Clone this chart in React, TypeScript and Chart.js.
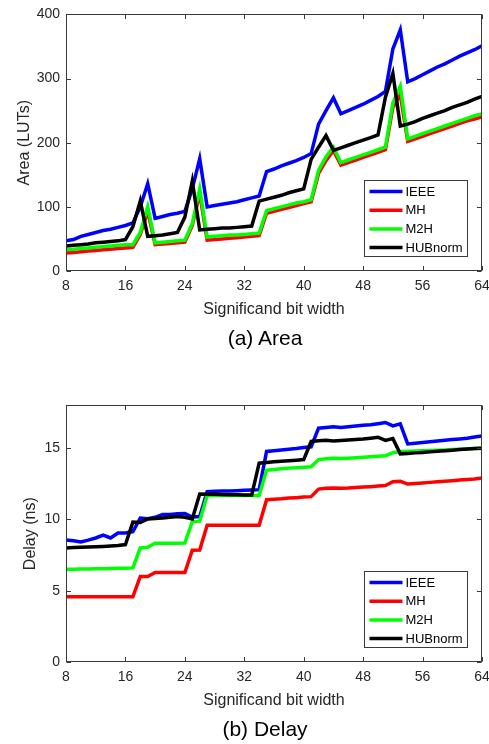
import React, { useEffect, useRef } from "react";
import { Chart, registerables } from "chart.js";

Chart.register(...registerables);

// ---------------- data ----------------
const bits = [
  8, 9, 10, 11, 12, 13, 14, 15, 16, 17, 18, 19, 20, 21, 22, 23, 24, 25, 26, 27,
  28, 29, 30, 31, 32, 33, 34, 35, 36, 37, 38, 39, 40, 41, 42, 43, 44, 45, 46,
  47, 48, 49, 50, 51, 52, 53, 54, 55, 56, 57, 58, 59, 60, 61, 62, 63, 64,
];

const seriesNames = ["IEEE", "MH", "M2H", "HUBnorm"];
const seriesColors = ["#0000ff", "#ff0000", "#00ff00", "#000000"];

const xTicks = [8, 16, 24, 32, 40, 48, 56, 64];
const areaTicks = [0, 100, 200, 300, 400];
const delayTicks = [0, 5, 10, 15];

// Area (LUTs)
const areaIEEE = [
  47, 49, 54, 57, 60, 63, 65, 68, 71, 75, 100, 136, 82, 85, 88, 90, 93, 128, 175, 100,
  102, 104, 106, 108, 111, 114, 117, 155, 159, 164, 168, 172, 177, 183, 229, 250, 270, 245, 250,
  255, 260, 266, 272, 280, 346, 376, 295, 300, 306, 312, 318, 323, 329, 335, 340, 345, 351,
];
const areaMH = [
  28, 29, 30, 31, 32, 33, 34, 35, 36, 37, 57, 93, 41, 42, 43, 44, 45, 71, 121, 48,
  49, 50, 51, 52, 53, 54, 55, 90, 93, 96, 99, 102, 105, 108, 152, 172, 188, 165, 169,
  173, 177, 181, 185, 189, 255, 275, 202, 206, 210, 214, 218, 222, 226, 230, 234, 237, 240,
];
const areaM2H = [
  33, 34, 35, 36, 37, 38, 39, 40, 41, 41, 60, 100, 44, 45, 46, 47, 48, 74, 128, 53,
  54, 55, 56, 56, 57, 58, 59, 94, 97, 100, 103, 106, 108, 111, 157, 178, 193, 169, 173,
  177, 181, 185, 189, 193, 262, 288, 206, 210, 214, 218, 222, 226, 230, 234, 238, 242, 245,
];
const areaHUB = [
  39, 40, 41, 42, 44, 45, 46, 47, 49, 69, 109, 54, 55, 56, 58, 60, 84, 140, 64, 65,
  66, 67, 67, 68, 69, 70, 109, 112, 115, 118, 122, 125, 128, 174, 193, 211, 188, 192, 196,
  200, 204, 208, 212, 271, 308, 226, 229, 233, 238, 242, 246, 250, 255, 259, 263, 268, 272,
];

// Delay (ns)
const delayIEEE = [
  8.55, 8.5, 8.42, 8.55, 8.7, 8.9, 8.7, 9.05, 9.05, 9.15, 10.1, 10.05, 10.15, 10.35, 10.35, 10.4, 10.42, 10.17, 10.2, 11.95,
  11.97, 11.99, 12.0, 12.02, 12.04, 12.06, 12.09, 14.77, 14.82, 14.87, 14.92, 14.97, 15.05, 15.1, 16.4, 16.45, 16.5, 16.45, 16.5,
  16.55, 16.6, 16.65, 16.72, 16.8, 16.56, 16.7, 15.3, 15.35, 15.4, 15.45, 15.5, 15.55, 15.6, 15.65, 15.7, 15.78, 15.85,
];
const delayMH = [
  4.57, 4.57, 4.57, 4.57, 4.57, 4.57, 4.57, 4.57, 4.57, 4.57, 6.0, 6.0, 6.28, 6.28, 6.28, 6.28, 6.28, 7.84, 7.86, 9.6,
  9.6, 9.6, 9.6, 9.6, 9.6, 9.6, 9.6, 11.38, 11.42, 11.45, 11.5, 11.53, 11.57, 11.6, 12.13, 12.18, 12.2, 12.18, 12.2,
  12.24, 12.27, 12.3, 12.34, 12.38, 12.65, 12.67, 12.48, 12.52, 12.56, 12.6, 12.64, 12.68, 12.72, 12.76, 12.8, 12.84, 12.9,
];
const delayM2H = [
  6.5, 6.51, 6.52, 6.53, 6.54, 6.55, 6.56, 6.57, 6.58, 6.6, 8.0, 8.05, 8.33, 8.33, 8.33, 8.33, 8.35, 9.85, 9.88, 11.68,
  11.68, 11.68, 11.68, 11.68, 11.68, 11.68, 11.68, 13.45, 13.5, 13.55, 13.6, 13.63, 13.66, 13.7, 14.2, 14.25, 14.3, 14.27, 14.3,
  14.33, 14.36, 14.4, 14.43, 14.47, 14.68, 14.77, 14.78, 14.8, 14.82, 14.84, 14.86, 14.88, 14.9, 14.93, 14.95, 14.98, 15.0,
];
const delayHUB = [
  8.0, 8.03, 8.05, 8.07, 8.09, 8.11, 8.14, 8.18, 8.24, 9.82, 9.78, 10.03, 10.06, 10.1, 10.15, 10.2, 10.15, 10.03, 11.78, 11.77,
  11.76, 11.75, 11.74, 11.73, 11.72, 11.71, 13.95, 14.0, 14.04, 14.08, 14.12, 14.16, 14.2, 15.47, 15.52, 15.55, 15.5, 15.53, 15.57,
  15.6, 15.64, 15.7, 15.77, 15.55, 15.68, 14.6, 14.63, 14.67, 14.7, 14.74, 14.78, 14.82, 14.86, 14.9, 14.94, 14.97, 15.0,
];

// ---------------- style ----------------
const FONT = "'Liberation Sans', Arial, Helvetica, sans-serif";
const TEXT = "#262626";
const AXIS = "#3a3a3a";
const CANVAS_W = 489;
const CANVAS_H = 330;
const PLOT_TOP = 14;
const PLOT_LEFT = 66;
const PLOT_BOTTOM = 271;

const framePlugin = {
  id: "matlabFrame",
  afterDatasetsDraw(chart: any) {
    const { ctx, chartArea: a, scales } = chart;
    ctx.save();
    ctx.strokeStyle = AXIS;
    ctx.lineWidth = 1;
    const L = Math.round(a.left) + 0.5;
    const R = Math.round(a.right) - 0.5;
    const T = Math.round(a.top) + 0.5;
    const B = Math.round(a.bottom) - 0.5;
    ctx.strokeRect(L, T, R - L, B - T);
    const tl = 4.5;
    ctx.beginPath();
    scales.x.ticks.forEach((t: any) => {
      const px = Math.round(scales.x.getPixelForValue(t.value)) + 0.5;
      ctx.moveTo(px, B);
      ctx.lineTo(px, B - tl);
      ctx.moveTo(px, T);
      ctx.lineTo(px, T + tl);
    });
    scales.y.ticks.forEach((t: any) => {
      const py = Math.round(scales.y.getPixelForValue(t.value)) + 0.5;
      ctx.moveTo(L, py);
      ctx.lineTo(L + tl, py);
      ctx.moveTo(R, py);
      ctx.lineTo(R - tl, py);
    });
    ctx.stroke();
    ctx.restore();
  },
  afterDraw(chart: any) {
    const { ctx, chartArea: a } = chart;
    const w = 103;
    const h = 76;
    const x0 = Math.round(a.right - 15 - w) + 0.5;
    const y0 = Math.round(a.bottom - 15 - h) + 0.5;
    ctx.save();
    ctx.fillStyle = "#ffffff";
    ctx.fillRect(x0, y0, w, h);
    ctx.strokeStyle = AXIS;
    ctx.lineWidth = 1;
    ctx.strokeRect(x0, y0, w, h);
    ctx.font = `13px ${FONT}`;
    ctx.textBaseline = "middle";
    ctx.textAlign = "left";
    chart.data.datasets.forEach((ds: any, i: number) => {
      const cy = y0 + 11 + i * 18.7;
      ctx.strokeStyle = ds.borderColor;
      ctx.lineWidth = 3.5;
      ctx.beginPath();
      ctx.moveTo(x0 + 5, cy);
      ctx.lineTo(x0 + 38, cy);
      ctx.stroke();
      ctx.fillStyle = "#000000";
      ctx.fillText(ds.label, x0 + 41, cy + 0.5);
    });
    ctx.restore();
  },
};

function buildConfig(
  series: number[][],
  yMax: number,
  yTicks: number[],
  yTitle: string,
  yTitlePad: number
): any {
  return {
    type: "line",
    data: {
      datasets: series.map((vals, i) => ({
        label: seriesNames[i],
        data: bits.map((b, j) => ({ x: b, y: vals[j] })),
        borderColor: seriesColors[i],
        backgroundColor: seriesColors[i],
        borderWidth: 3.5,
        pointRadius: 0,
        fill: false,
        tension: 0,
        order: 4 - i,
      })),
    },
    options: {
      responsive: false,
      animation: false,
      devicePixelRatio: 1,
      events: [],
      layout: { padding: { top: PLOT_TOP, right: CANVAS_W - 482, bottom: 0, left: 0 } },
      plugins: {
        legend: { display: false },
        tooltip: { enabled: false },
      },
      scales: {
        x: {
          type: "linear",
          min: 8,
          max: 64,
          afterBuildTicks: (s: any) => {
            s.ticks = xTicks.map((v) => ({ value: v }));
          },
          afterFit: (s: any) => {
            s.height = CANVAS_H - PLOT_BOTTOM;
            s.paddingLeft = 0;
            s.paddingRight = 0;
          },
          grid: { display: false, drawTicks: false, tickLength: 0 },
          border: { display: false },
          ticks: {
            font: { family: FONT, size: 14 },
            color: TEXT,
            padding: 7,
            maxRotation: 0,
            autoSkip: false,
          },
          title: {
            display: true,
            text: "Significand bit width",
            font: { family: FONT, size: 16 },
            color: TEXT,
            padding: { top: 0, bottom: 10.4 },
          },
        },
        y: {
          type: "linear",
          min: 0,
          max: yMax,
          afterBuildTicks: (s: any) => {
            s.ticks = yTicks.map((v) => ({ value: v }));
          },
          afterFit: (s: any) => {
            s.width = PLOT_LEFT;
          },
          grid: { display: false, drawTicks: false, tickLength: 0 },
          border: { display: false },
          ticks: {
            font: { family: FONT, size: 14 },
            color: TEXT,
            padding: 6,
          },
          title: {
            display: true,
            text: yTitle,
            font: { family: FONT, size: 16 },
            color: TEXT,
            padding: { top: yTitlePad, bottom: 0 },
          },
        },
      },
    },
    plugins: [framePlugin],
  };
}

function Panel(props: {
  top: number;
  series: number[][];
  yMax: number;
  yTicks: number[];
  yTitle: string;
  yTitlePad: number;
}) {
  const ref = useRef<HTMLCanvasElement | null>(null);
  useEffect(() => {
    if (!ref.current) return;
    const chart = new Chart(
      ref.current,
      buildConfig(props.series, props.yMax, props.yTicks, props.yTitle, props.yTitlePad)
    );
    return () => chart.destroy();
  }, []);
  return (
    <canvas
      ref={ref}
      width={CANVAS_W}
      height={CANVAS_H}
      style={{ position: "absolute", left: 0, top: props.top, width: CANVAS_W, height: CANVAS_H }}
    />
  );
}

const captionStyle = (top: number): React.CSSProperties => ({
  position: "absolute",
  left: 265,
  top,
  transform: "translateX(-50%)",
  fontFamily: FONT,
  fontSize: 21,
  lineHeight: "24px",
  color: "#000000",
  whiteSpace: "nowrap",
});

export default function App() {
  return (
    <div
      style={{
        position: "absolute",
        left: 0,
        top: 0,
        width: CANVAS_W,
        height: 744,
        background: "#ffffff",
        overflow: "hidden",
      }}
    >
      <Panel
        top={0}
        series={[areaIEEE, areaMH, areaM2H, areaHUB]}
        yMax={400}
        yTicks={areaTicks}
        yTitle="Area (LUTs)"
        yTitlePad={14.9}
      />
      <div style={captionStyle(326)}>(a) Area</div>
      <Panel
        top={391}
        series={[delayIEEE, delayMH, delayM2H, delayHUB]}
        yMax={18}
        yTicks={delayTicks}
        yTitle="Delay (ns)"
        yTitlePad={20.9}
      />
      <div style={captionStyle(717)}>(b) Delay</div>
    </div>
  );
}
